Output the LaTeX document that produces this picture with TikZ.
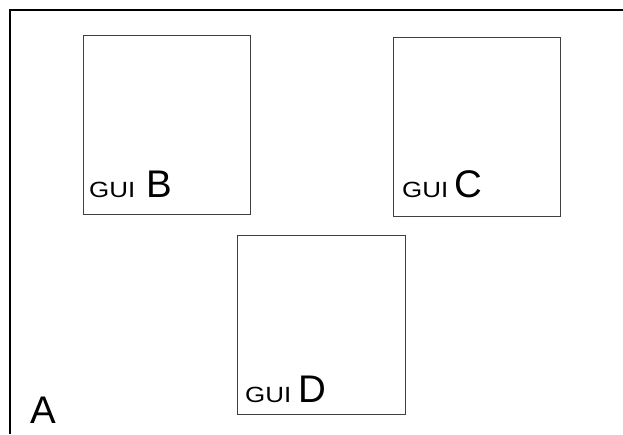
\documentclass[tikz,border=0pt]{standalone}
\usepackage{fontspec}
\setmainfont{Liberation Sans}
\newcommand{\guitext}{\scalebox{1.18}[1]{GUI}}
\begin{document}
\begin{tikzpicture}[x=1pt,y=-1pt,
  frameline/.style={draw=black,line width=1.3pt},
  guibox/.style={draw=black!75,line width=1.1pt},
  small/.style={anchor=base west,inner sep=0pt,font=\fontsize{22}{22}\selectfont},
  big/.style={anchor=base west,inner sep=0pt,font=\fontsize{38.5}{38.5}\selectfont}]
\useasboundingbox (0,0) rectangle (623,434);
\fill[white] (0,0) rectangle (623,434);
\coordinate (ftop) at (623,10);
\coordinate (fcorner) at (10,10);
\coordinate (fbot) at (10,434);
\draw[frameline] (ftop) -- (fcorner) -- (fbot);
\node[inner sep=0pt,minimum width=167pt,minimum height=179pt,anchor=north west,guibox] (B) at (83,35) {};
\node[inner sep=0pt,minimum width=167pt,minimum height=179pt,anchor=north west,guibox] (C) at (393,37) {};
\node[inner sep=0pt,minimum width=168pt,minimum height=179pt,anchor=north west,guibox] (D) at (237,235) {};
\node[small] (gb) at (89,197.5) {\guitext};
\node[big] (lb) at (146,197.5) {B};
\node[small] (gc) at (402,197) {\guitext};
\node[big] (lc) at (454,197) {C};
\node[small] (gd) at (245,402) {\guitext};
\node[big] (ld) at (298,402) {D};
\node[big] (la) at (30,423) {A};
\end{tikzpicture}
\end{document}
